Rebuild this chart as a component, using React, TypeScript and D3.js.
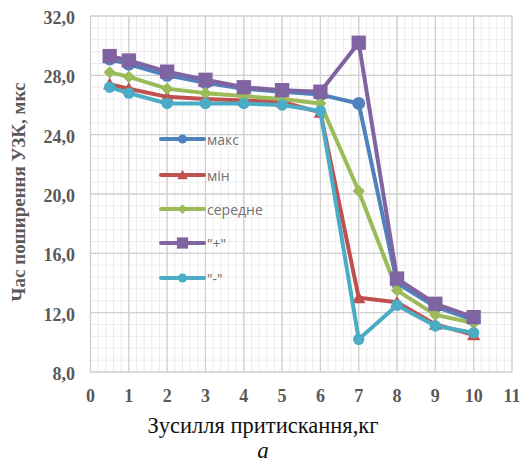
import React from "react";
import * as d3 from "d3";

const xs = [0.5, 1, 2, 3, 4, 5, 6, 7, 8, 9, 10];
const maxVals = [29.1, 28.75, 28.0, 27.5, 27.1, 26.9, 26.7, 26.1, 14.0, 12.4, 11.5];
const minVals = [27.4, 27.1, 26.55, 26.4, 26.3, 26.2, 25.5, 13.0, 12.7, 11.2, 10.5];
const avgVals = [28.2, 27.9, 27.1, 26.8, 26.6, 26.4, 26.1, 20.2, 13.5, 11.85, 11.3];
const plusVals = [29.3, 29.0, 28.25, 27.7, 27.2, 27.0, 26.9, 30.2, 14.3, 12.6, 11.7];
const minusVals = [27.2, 26.8, 26.1, 26.1, 26.1, 26.0, 25.6, 10.2, 12.5, 11.1, 10.65];

const seriesNames = ["макс", "мін", "середне", "\"+\"", "\"-\""];
const seriesColors = ["#4F81BD", "#C0504D", "#9BBB59", "#8064A2", "#4BACC6"];
const seriesMarkers = ["circle", "triangle", "diamond", "square", "circle"];
const seriesData = [maxVals, minVals, avgVals, plusVals, minusVals];

const xTicks = [0, 1, 2, 3, 4, 5, 6, 7, 8, 9, 10, 11];
const yTicks = [8, 12, 16, 20, 24, 28, 32];

const W = 524;
const H = 465;
const left = 90.5;
const right = 512;
const top = 16;
const bottom = 372;

function Marker({ type, x, y, color, scale }: { type: string; x: number; y: number; color: string; scale: number }) {
  if (type === "circle") {
    return <circle cx={x} cy={y} r={6 * scale} fill={color} />;
  }
  if (type === "square") {
    const s = 15 * scale;
    return <rect x={x - s / 2} y={y - s / 2} width={s} height={s} fill={color} />;
  }
  if (type === "triangle") {
    const s = 7 * scale;
    return <path d={`M${x},${y - s} L${x + s},${y + s * 0.8} L${x - s},${y + s * 0.8} Z`} fill={color} />;
  }
  const s = 6.5 * scale;
  return <path d={`M${x},${y - s} L${x + s},${y} L${x},${y + s} L${x - s},${y} Z`} fill={color} />;
}

export default function App() {
  const x = d3.scaleLinear().domain([0, 11]).range([left, right]);
  const y = d3.scaleLinear().domain([8, 32]).range([bottom, top]);
  const line = d3
    .line<number>()
    .x((_, i) => x(xs[i]))
    .y((d) => y(d));

  const minorX = d3.range(0, 11 * 5 + 1).map((i) => i * 0.2);
  const minorY = d3.range(0, 24 * 1.25 + 1).map((i) => 8 + i * 0.8);

  const legendY = [139, 175, 209, 243, 278];

  return (
    <svg width={W} height={H} style={{ position: "absolute", left: 0, top: 0 }}>
      <rect width={W} height={H} fill="#fff" />
      {minorX.map((v, i) => (
        <line key={"mx" + i} x1={x(v)} x2={x(v)} y1={top} y2={bottom} stroke="#ececec" strokeWidth={1} />
      ))}
      {minorY.map((v, i) => (
        <line key={"my" + i} x1={left} x2={right} y1={y(v)} y2={y(v)} stroke="#ececec" strokeWidth={1} />
      ))}
      {xTicks.map((v) => (
        <line key={"gx" + v} x1={x(v)} x2={x(v)} y1={top} y2={bottom} stroke="#d0d0d0" strokeWidth={1.3} />
      ))}
      {yTicks.map((v) => (
        <line key={"gy" + v} x1={left} x2={right} y1={y(v)} y2={y(v)} stroke="#d0d0d0" strokeWidth={1.3} />
      ))}
      {yTicks.map((v) => (
        <text
          key={"ty" + v}
          x={75}
          y={y(v) + 2}
          textAnchor="end"
          dominantBaseline="central"
          fontFamily="Liberation Serif, serif"
          fontWeight="bold"
          fontSize={18}
          fill="#595959"
        >
          {v.toFixed(1).replace(".", ",")}
        </text>
      ))}
      {xTicks.map((v) => (
        <text
          key={"tx" + v}
          x={x(v)}
          y={396}
          textAnchor="middle"
          dominantBaseline="central"
          fontFamily="Liberation Serif, serif"
          fontWeight="bold"
          fontSize={18}
          fill="#595959"
        >
          {v}
        </text>
      ))}
      <text
        transform={`translate(18,192) rotate(-90)`}
        textAnchor="middle"
        dominantBaseline="central"
        fontFamily="Liberation Serif, serif"
        fontWeight="bold"
        fontSize={19}
        fill="#595959"
      >
        Час поширення УЗК, мкс
      </text>
      <text x={263} y={425} textAnchor="middle" dominantBaseline="central" fontFamily="Liberation Serif, serif" fontSize={22.5} fill="#111">
        Зусилля притискання,кг
      </text>
      <text x={263} y={450} textAnchor="middle" dominantBaseline="central" fontFamily="Liberation Serif, serif" fontStyle="italic" fontSize={23} fill="#111">
        а
      </text>
      {seriesData.map((data, si) => (
        <g key={"s" + si}>
          <path d={line(data) || ""} fill="none" stroke={seriesColors[si]} strokeWidth={4} strokeLinejoin="round" />
          {data.map((v, i) => (
            <Marker key={i} type={seriesMarkers[si]} x={x(xs[i])} y={y(v)} color={seriesColors[si]} scale={si === 0 ? 1.08 : 0.95} />
          ))}
        </g>
      ))}
      {seriesNames.map((name, si) => (
        <g key={"l" + si}>
          <line x1={161} x2={204} y1={legendY[si]} y2={legendY[si]} stroke={seriesColors[si]} strokeWidth={4} strokeLinecap="round" />
          <Marker type={seriesMarkers[si]} x={182.5} y={legendY[si]} color={seriesColors[si]} scale={0.75} />
          <text x={207} y={legendY[si]} dominantBaseline="central" fontFamily="Open Sans, sans-serif" fontSize={14} fill="#707070">
            {name}
          </text>
        </g>
      ))}
    </svg>
  );
}
